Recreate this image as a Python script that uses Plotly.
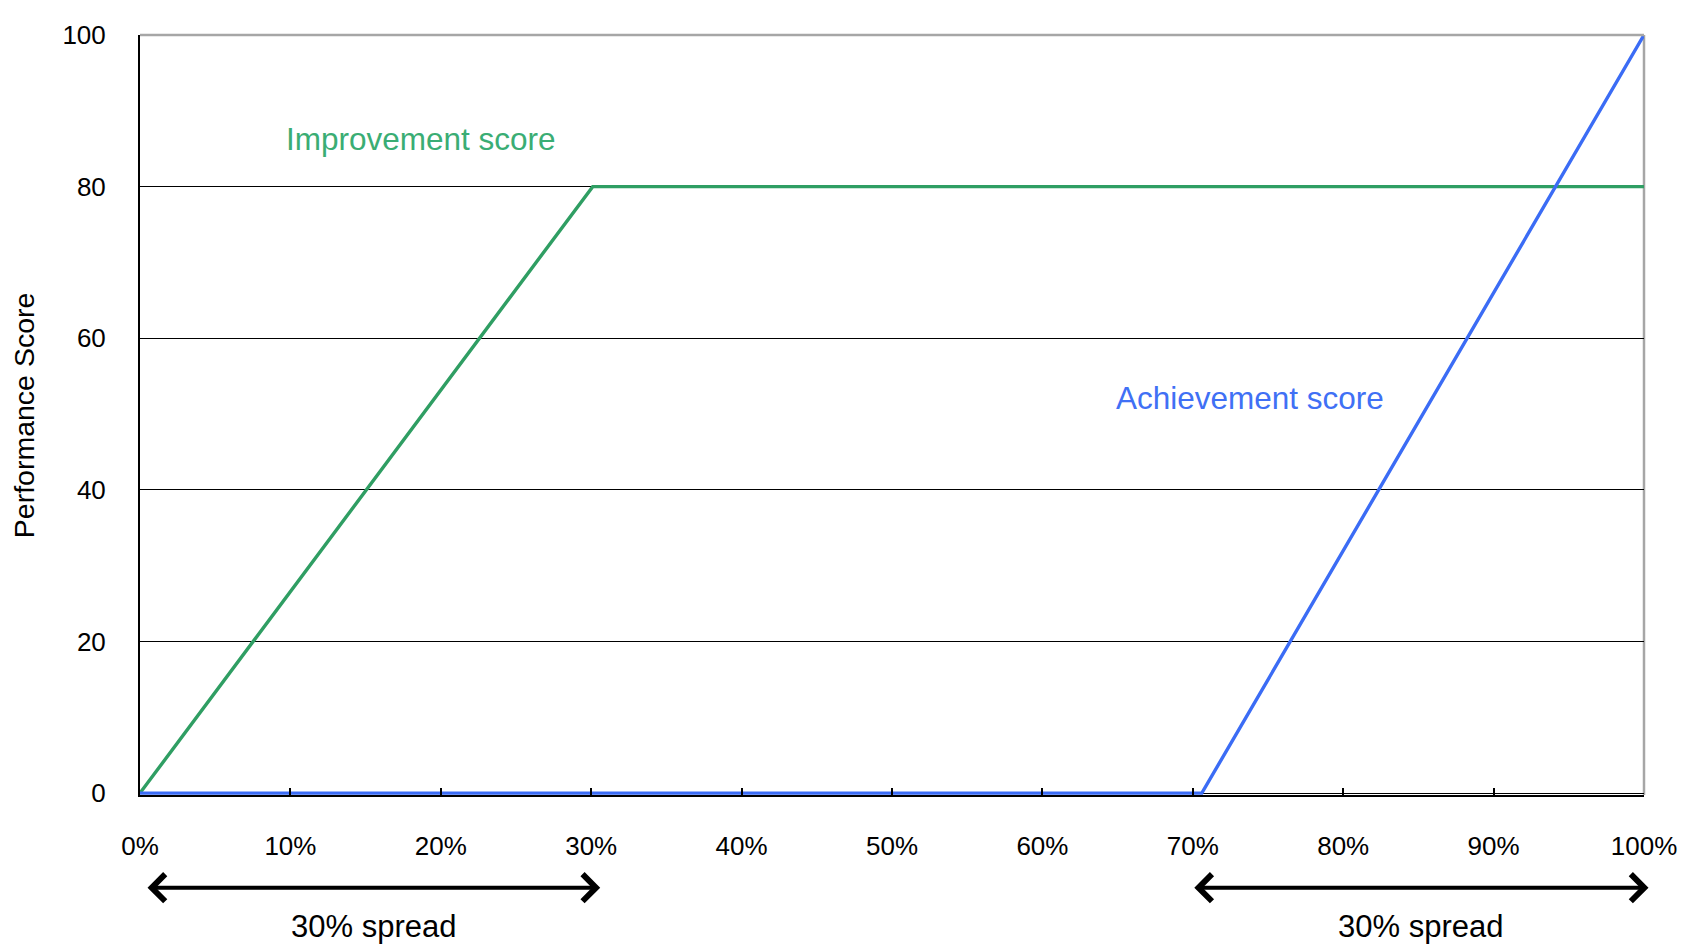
import plotly.graph_objects as go

# ---- data ----
improvement_x = [0, 30.1, 100]
improvement_y = [0, 80, 80]
achievement_x = [0, 70.6, 100]
achievement_y = [0, 0, 100]

x_tickvals = [0, 10, 20, 30, 40, 50, 60, 70, 80, 90, 100]
x_ticktext = ["0%", "10%", "20%", "30%", "40%", "50%", "60%", "70%", "80%", "90%", "100%"]
y_tickvals = [0, 20, 40, 60, 80, 100]
y_ticktext = ["0", "20", "40", "60", "80", "100"]

spread_ranges = [(0.4, 30.6), (70.0, 100.3)]
spread_labels = ["30% spread", "30% spread"]

FONT = "Liberation Sans, Arial, sans-serif"
GREEN = "#2f9e63"
GREEN_TXT = "#3aad74"
BLUE = "#3b6cf5"
BLUE_TXT = "#4070f5"

fig = go.Figure()
fig.add_trace(go.Scatter(x=improvement_x, y=improvement_y, mode="lines",
                         line=dict(color=GREEN, width=3.4), showlegend=False,
                         name="Improvement score"))
fig.add_trace(go.Scatter(x=achievement_x, y=achievement_y, mode="lines",
                         line=dict(color=BLUE, width=3.4), showlegend=False,
                         name="Achievement score"))

annotations = [
    dict(x=18.7, y=86.3, xref="x", yref="y", text="Improvement score", showarrow=False,
         xanchor="center", yanchor="middle",
         font=dict(family=FONT, size=31.5, color=GREEN_TXT)),
    dict(x=73.8, y=52.1, xref="x", yref="y", text="Achievement score", showarrow=False,
         xanchor="center", yanchor="middle",
         font=dict(family=FONT, size=31.5, color=BLUE_TXT)),
    dict(x=-0.077, y=0.5, xref="paper", yref="paper", text="Performance Score",
         showarrow=False, textangle=-90, xanchor="center", yanchor="middle",
         font=dict(family=FONT, size=28.5, color="#000000")),
]
for (a, b), lab in zip(spread_ranges, spread_labels):
    annotations.append(dict(x=b, y=-0.122, ax=a, ay=0, xref="x", yref="paper",
                            axref="x", ayref="pixel", text="", showarrow=True,
                            arrowhead=4, startarrowhead=4, arrowside="end+start",
                            arrowsize=1.3, startarrowsize=1.3, arrowwidth=4,
                            arrowcolor="#000000"))
    annotations.append(dict(x=(a + b) / 2, y=-0.173, xref="x", yref="paper", text=lab,
                            showarrow=False, xanchor="center", yanchor="middle",
                            font=dict(family=FONT, size=31, color="#000000")))

shapes = [
    dict(type="line", xref="paper", yref="paper", x0=0, x1=1, y0=1, y1=1,
         line=dict(color="#a6a6a6", width=2.5), layer="above"),
    dict(type="line", xref="paper", yref="paper", x0=1, x1=1, y0=0, y1=1,
         line=dict(color="#a6a6a6", width=2.5), layer="below"),
]

fig.update_layout(
    width=1692, height=939,
    margin=dict(l=132, r=56, t=15, b=152),
    paper_bgcolor="white", plot_bgcolor="white",
    font=dict(family=FONT, color="#000000"),
    annotations=annotations, shapes=shapes,
    xaxis=dict(range=[0, 100], tickvals=x_tickvals, ticktext=x_ticktext,
               showgrid=False, zeroline=False, showline=True, linecolor="#000000",
               linewidth=2, ticks="inside", ticklen=7, tickwidth=2, tickcolor="#000000",
               tickfont=dict(family=FONT, size=26, color="#000000"),
               ticklabelstandoff=27, fixedrange=True),
    yaxis=dict(range=[-0.25, 100], tickvals=y_tickvals, ticktext=y_ticktext,
               showgrid=True, gridcolor="#000000", gridwidth=1.3, zeroline=False,
               showline=True, linecolor="#000000", linewidth=2, ticks="",
               tickfont=dict(family=FONT, size=26, color="#000000"),
               ticklabelstandoff=27, fixedrange=True),
)

fig.write_html("out.html")
